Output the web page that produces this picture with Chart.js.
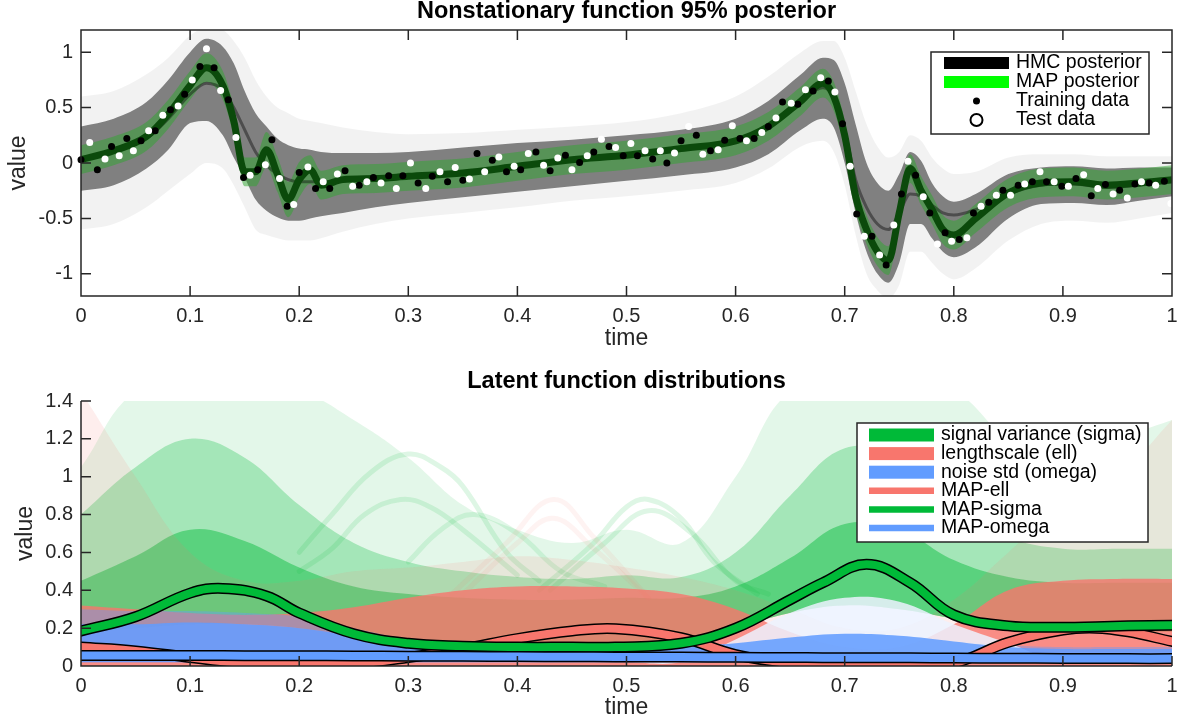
<!DOCTYPE html>
<html>
<head>
<meta charset="utf-8">
<script src="https://cdn.jsdelivr.net/npm/chart.js@4.4.1/dist/chart.umd.min.js"></script>
<style>
  html, body { margin: 0; padding: 0; background: #fff; }
  #wrap { position: relative; width: 1182px; height: 722px; overflow: hidden; }
  .panel { position: absolute; left: 0; width: 1182px; }
  #panel-top { top: 0; height: 360px; }
  #panel-bot { top: 360px; height: 362px; }
</style>
</head>
<body>
<div id="wrap">
  <div class="panel" id="panel-top"><canvas id="posterior-chart"></canvas></div>
  <div class="panel" id="panel-bot"><canvas id="latent-chart"></canvas></div>
</div>
<script>
// ---- top panel: posterior of f(t) ----
const timeGrid = [0, 0.03, 0.06, 0.08, 0.1, 0.115, 0.13, 0.14, 0.15, 0.16, 0.17, 0.18, 0.19, 0.2, 0.21,
  0.22, 0.24, 0.27, 0.3, 0.35, 0.4, 0.45, 0.5, 0.55, 0.6, 0.63, 0.66, 0.68, 0.69, 0.7, 0.71, 0.72,
  0.73, 0.74, 0.75, 0.76, 0.77, 0.78, 0.79, 0.8, 0.82, 0.85, 0.88, 0.91, 0.94, 0.97, 1.0];

const mapMean = [0.03, 0.11, 0.24, 0.44, 0.7, 0.86, 0.7, 0.38, -0.08, -0.08, 0.12, -0.1, -0.33, -0.15, -0.06,
  -0.2, -0.15, -0.14, -0.12, -0.09, -0.03, 0.03, 0.07, 0.13, 0.2, 0.33, 0.56, 0.72, 0.6, 0.25, -0.3, -0.6,
  -0.8, -0.88, -0.45, -0.05, -0.25, -0.42, -0.6, -0.65, -0.5, -0.27, -0.18, -0.17, -0.2, -0.18, -0.15];
const mapUpper = [0.16, 0.24, 0.37, 0.57, 0.83, 0.99, 0.83, 0.51, 0.05, 0.05, 0.28, 0.06, -0.17, 0.01, 0.07,
  -0.07, -0.02, -0.01, 0.01, 0.04, 0.1, 0.16, 0.2, 0.26, 0.33, 0.46, 0.69, 0.85, 0.73, 0.38, -0.17, -0.47,
  -0.67, -0.75, -0.32, 0.08, -0.12, -0.29, -0.47, -0.52, -0.37, -0.14, -0.05, -0.04, -0.07, -0.05, -0.02];
const mapLower = [-0.1, -0.02, 0.11, 0.31, 0.57, 0.73, 0.57, 0.25, -0.21, -0.21, -0.04, -0.26, -0.49, -0.31, -0.19,
  -0.33, -0.28, -0.27, -0.25, -0.22, -0.16, -0.1, -0.06, 0.0, 0.07, 0.2, 0.43, 0.59, 0.47, 0.12, -0.43, -0.73,
  -0.93, -1.01, -0.58, -0.18, -0.38, -0.55, -0.73, -0.78, -0.63, -0.4, -0.31, -0.3, -0.33, -0.31, -0.28];
const hmcMean = [0.03, 0.1, 0.22, 0.4, 0.62, 0.72, 0.66, 0.5, 0.3, 0.1, -0.02, -0.1, -0.15, -0.17, -0.17,
  -0.17, -0.16, -0.14, -0.12, -0.09, -0.03, 0.03, 0.07, 0.13, 0.2, 0.33, 0.56, 0.68, 0.6, 0.3, -0.15, -0.4,
  -0.55, -0.6, -0.45, -0.28, -0.3, -0.38, -0.45, -0.47, -0.42, -0.28, -0.2, -0.19, -0.22, -0.2, -0.17];
const hmcUpper = [0.33, 0.4, 0.55, 0.75, 1.0, 1.12, 1.05, 0.9, 0.65, 0.45, 0.33, 0.22, 0.16, 0.13, 0.12,
  0.1, 0.09, 0.09, 0.1, 0.14, 0.18, 0.21, 0.25, 0.3, 0.4, 0.56, 0.8, 0.95, 0.93, 0.72, 0.35, 0.0,
  -0.18, -0.25, -0.1, 0.1, 0.02, -0.18, -0.3, -0.35, -0.28, -0.1, -0.04, -0.03, -0.05, -0.04, -0.04];
const hmcLower = [-0.25, -0.2, -0.05, 0.12, 0.36, 0.38, 0.25, 0.05, -0.13, -0.33, -0.43, -0.49, -0.52, -0.52, -0.5,
  -0.48, -0.45, -0.4, -0.36, -0.31, -0.26, -0.21, -0.16, -0.11, -0.04, 0.08, 0.3, 0.4, 0.32, 0.0, -0.45, -0.8,
  -1.0, -1.08, -0.9, -0.55, -0.55, -0.68, -0.8, -0.85, -0.76, -0.5, -0.37, -0.36, -0.38, -0.34, -0.3];
const tailUpper = [0.6, 0.65, 0.8, 0.95, 1.15, 1.22, 1.2, 1.1, 0.95, 0.75, 0.6, 0.5, 0.45, 0.4, 0.38,
  0.36, 0.32, 0.28, 0.26, 0.27, 0.3, 0.33, 0.37, 0.45, 0.6, 0.78, 1.0, 1.1, 1.1, 0.95, 0.65, 0.35,
  0.15, 0.05, 0.1, 0.25, 0.2, 0.05, -0.05, -0.1, -0.08, 0.05, 0.08, 0.08, 0.06, 0.06, 0.06];
const tailLower = [-0.6, -0.55, -0.4, -0.25, -0.1, 0.0, -0.05, -0.2, -0.4, -0.6, -0.65, -0.68, -0.7, -0.7, -0.7,
  -0.68, -0.62, -0.55, -0.5, -0.45, -0.4, -0.34, -0.3, -0.25, -0.18, -0.05, 0.15, 0.2, 0.1, -0.2, -0.65, -1.0,
  -1.15, -1.22, -1.1, -0.8, -0.8, -0.9, -1.0, -1.05, -0.95, -0.7, -0.55, -0.52, -0.54, -0.5, -0.45];

const trainX = [0, 0.015, 0.028, 0.042, 0.055, 0.068, 0.082, 0.095, 0.109, 0.122, 0.135, 0.149, 0.162, 0.175, 0.189,
  0.2, 0.215, 0.228, 0.242, 0.255, 0.268, 0.282, 0.295, 0.309, 0.322, 0.336, 0.35, 0.363, 0.377, 0.39,
  0.403, 0.417, 0.43, 0.444, 0.457, 0.47, 0.484, 0.497, 0.51, 0.524, 0.537, 0.55, 0.564, 0.577, 0.59,
  0.604, 0.617, 0.63, 0.643, 0.657, 0.671, 0.685, 0.698, 0.711, 0.725, 0.738, 0.752, 0.765, 0.778, 0.792,
  0.805, 0.818, 0.832, 0.845, 0.859, 0.872, 0.885, 0.899, 0.912, 0.926, 0.939, 0.952, 0.966, 0.979, 0.993];
const trainY = [0.03, -0.06, 0.15, 0.22, 0.2, 0.29, 0.48, 0.62, 0.87, 0.86, 0.57, -0.13, -0.06, 0.21, -0.39,
  -0.085, -0.23, -0.23, -0.07, -0.2, -0.13, -0.115, -0.115, -0.18, -0.12, -0.17, -0.155, 0.085, 0.025, -0.08,
  -0.06, 0.1, -0.07, 0.07, 0.005, 0.1, 0.15, 0.065, 0.065, 0.035, 0.0, 0.2, 0.25, 0.11, 0.205,
  0.22, 0.22, 0.33, 0.55, 0.53, 0.65, 0.74, 0.355, -0.46, -0.66, -0.92, -0.28, -0.11, -0.45, -0.63,
  -0.69, -0.45, -0.355, -0.245, -0.2, -0.17, -0.17, -0.21, -0.14, -0.295, -0.195, -0.245, -0.19, -0.18, -0.165];
const testX = [0.008, 0.022, 0.035, 0.048, 0.062, 0.075, 0.089, 0.102, 0.115, 0.128, 0.142, 0.155, 0.169, 0.182, 0.195,
  0.208, 0.222, 0.235, 0.249, 0.262, 0.275, 0.289, 0.302, 0.316, 0.329, 0.343, 0.356, 0.37, 0.383, 0.397,
  0.41, 0.424, 0.437, 0.45, 0.464, 0.477, 0.49, 0.504, 0.517, 0.531, 0.544, 0.557, 0.57, 0.584, 0.597,
  0.61, 0.624, 0.637, 0.651, 0.664, 0.678, 0.691, 0.705, 0.718, 0.732, 0.745, 0.758, 0.772, 0.785, 0.798,
  0.812, 0.825, 0.839, 0.852, 0.865, 0.879, 0.892, 0.905, 0.919, 0.932, 0.946, 0.959, 0.972, 0.985, 0.999];
const testY = [0.185, 0.035, 0.065, 0.11, 0.29, 0.43, 0.515, 0.75, 1.03, 0.655, 0.23, -0.11, -0.015, -0.14, -0.375,
  -0.035, -0.17, -0.1, -0.21, -0.17, -0.18, -0.23, 0.0, -0.23, -0.08, -0.04, -0.145, -0.08, 0.055, -0.03,
  0.085, -0.02, 0.045, -0.06, 0.065, 0.215, 0.14, 0.175, 0.11, 0.11, 0.09, 0.33, 0.08, 0.12, 0.335,
  0.2, 0.275, 0.405, 0.54, 0.66, 0.77, 0.64, -0.03, -0.66, -0.83, -0.56, 0.015, -0.305, -0.73, -0.705,
  -0.675, -0.39, -0.29, -0.29, -0.19, -0.08, -0.17, -0.21, -0.105, -0.23, -0.28, -0.315, -0.17, -0.2, -0.365];

const timeTicks = [0, 0.1, 0.2, 0.3, 0.4, 0.5, 0.6, 0.7, 0.8, 0.9, 1];
const valueTicks = [-1, -0.5, 0, 0.5, 1];

// ---- bottom panel: latent functions ----
const latentGrid = [0, 0.05, 0.1, 0.15, 0.2, 0.25, 0.3, 0.35, 0.4, 0.45, 0.5, 0.55, 0.6, 0.65, 0.7, 0.75, 0.8, 0.85, 0.9, 0.95, 1];
const sigmaFaintTop = [1.05, 1.45, 1.45, 1.45, 1.45, 1.3, 1.1, 0.85, 0.72, 0.65, 0.72, 0.65, 1.0, 1.45, 1.45, 1.45, 1.45, 1.2, 1.1, 1.2, 1.3];
const sigmaMidTop = [0.8, 1.05, 1.2, 1.1, 0.85, 0.65, 0.55, 0.5, 0.47, 0.46, 0.48, 0.47, 0.6, 0.9, 1.15, 1.1, 0.85, 0.68, 0.62, 0.62, 0.62];
const sigmaDenseTop = [0.45, 0.58, 0.72, 0.66, 0.52, 0.42, 0.38, 0.36, 0.35, 0.35, 0.36, 0.36, 0.42, 0.57, 0.75, 0.72, 0.56, 0.47, 0.44, 0.44, 0.44];
const sigmaBottom = [0.18, 0.2, 0.22, 0.22, 0.2, 0.16, 0.12, 0.1, 0.1, 0.1, 0.1, 0.12, 0.2, 0.28, 0.32, 0.3, 0.25, 0.2, 0.18, 0.18, 0.18];
const ellFaintTop = [1.45, 1.0, 0.6, 0.45, 0.45, 0.5, 0.52, 0.55, 0.58, 0.56, 0.52, 0.47, 0.4, 0.3, 0.2, 0.2, 0.35, 0.6, 0.85, 1.0, 1.3];
const ellDenseTop = [0.32, 0.3, 0.28, 0.27, 0.28, 0.31, 0.36, 0.4, 0.42, 0.42, 0.41, 0.38, 0.3, 0.18, 0.1, 0.1, 0.22, 0.4, 0.45, 0.46, 0.46];
const ellBottom = [0, 0, 0, 0, 0, 0, 0, 0, 0, 0, 0, 0, 0, 0, 0, 0, 0, 0, 0, 0, 0];
const omegaFaintTop = [0.3, 0.29, 0.29, 0.28, 0.26, 0.2, 0.14, 0.1, 0.09, 0.09, 0.09, 0.1, 0.12, 0.15, 0.17, 0.16, 0.13, 0.11, 0.1, 0.1, 0.1];
const omegaHazeTop = [0.02, 0.02, 0.02, 0.02, 0.02, 0.02, 0.02, 0.02, 0.02, 0.02, 0.02, 0.02, 0.14, 0.28, 0.36, 0.34, 0.22, 0.12, 0.02, 0.02, 0.02];
const omegaDenseTop = [0.22, 0.22, 0.23, 0.22, 0.2, 0.16, 0.12, 0.1, 0.09, 0.09, 0.09, 0.1, 0.12, 0.15, 0.17, 0.16, 0.13, 0.1, 0.09, 0.09, 0.09];
const omegaBottom = [0.02, 0.02, 0.02, 0.02, 0.02, 0.02, 0.02, 0.02, 0.02, 0.02, 0.02, 0.02, 0.02, 0.02, 0.02, 0.02, 0.02, 0.02, 0.02, 0.02, 0.02];

// a few single draws that stand out against the white area
const sigmaDrawA = { t: [0.2, 0.23, 0.265, 0.3, 0.33, 0.35, 0.39, 0.42], v: [0.6, 0.8, 1.02, 1.12, 1.05, 0.95, 0.6, 0.45] };
const sigmaDrawB = { t: [0.2, 0.23, 0.26, 0.293, 0.32, 0.35, 0.4], v: [0.5, 0.62, 0.8, 0.88, 0.84, 0.72, 0.48] };
const sigmaDrawC = { t: [0.42, 0.47, 0.5, 0.52, 0.55, 0.58, 0.62], v: [0.4, 0.65, 0.84, 0.88, 0.78, 0.55, 0.38] };
const sigmaDrawD = { t: [0.43, 0.48, 0.52, 0.56, 0.6, 0.63], v: [0.4, 0.65, 0.82, 0.7, 0.45, 0.38] };
const sigmaDrawE = { t: [0.3, 0.33, 0.36, 0.4, 0.44, 0.48], v: [0.55, 0.72, 0.8, 0.7, 0.5, 0.42] };
const ellDrawA = { t: [0.34, 0.39, 0.433, 0.47, 0.52], v: [0.38, 0.65, 0.88, 0.68, 0.36] };
const ellDrawB = { t: [0.35, 0.4, 0.433, 0.47, 0.52], v: [0.38, 0.65, 0.78, 0.62, 0.36] };

const mapGrid = [0, 0.05, 0.1, 0.13, 0.17, 0.2, 0.25, 0.3, 0.35, 0.4, 0.45, 0.49, 0.55, 0.6, 0.65, 0.68, 0.72, 0.76, 0.8, 0.85, 0.9, 0.93, 0.96, 1.0];
const mapSigma = [0.185, 0.26, 0.385, 0.41, 0.37, 0.28, 0.17, 0.12, 0.105, 0.1, 0.1, 0.1, 0.12, 0.2, 0.35, 0.44, 0.537, 0.44, 0.27, 0.212, 0.205, 0.208, 0.212, 0.215];
const mapEll = [0.1, 0.08, 0.045, 0.025, 0.012, 0.008, 0.012, 0.045, 0.09, 0.145, 0.185, 0.197, 0.15, 0.06, 0.015, 0.01, 0.005, 0.005, 0.015, 0.125, 0.19, 0.2, 0.18, 0.13];
const mapOmega = [0.056, 0.055, 0.055, 0.055, 0.054, 0.054, 0.053, 0.052, 0.051, 0.05, 0.049, 0.048, 0.047, 0.046, 0.045, 0.044, 0.043, 0.043, 0.042, 0.041, 0.04, 0.04, 0.039, 0.039];

const latentTicks = [0, 0.2, 0.4, 0.6, 0.8, 1, 1.2, 1.4];

const GREEN = '0, 186, 56';
const RED = '248, 118, 109';
const BLUE = '97, 156, 255';
const FONT = "'Liberation Sans', Arial, Helvetica, sans-serif";

Chart.defaults.font.family = FONT;
Chart.defaults.color = '#262626';

function pts(xs, ys) {
  return xs.map((x, i) => ({ x: x, y: ys[i] }));
}

function band(xs, upper, lower, color, smooth) {
  const common = { borderWidth: 0, pointRadius: 0, cubicInterpolationMode: smooth ? 'default' : 'monotone', tension: smooth ? 0.4 : 0 };
  return [
    Object.assign({ data: pts(xs, upper), fill: '+1', backgroundColor: color }, common),
    Object.assign({ data: pts(xs, lower), fill: false }, common)
  ];
}

function line(xs, ys, color, width, smooth, cap) {
  return {
    data: pts(xs, ys), borderColor: color, borderWidth: width, pointRadius: 0, fill: false,
    cubicInterpolationMode: smooth ? 'default' : 'monotone', tension: smooth ? 0.4 : 0,
    borderCapStyle: cap || 'butt', borderJoinStyle: 'round'
  };
}

// datasets are listed bottom layer first; Chart.js paints lower "order" last
function stack(list) {
  list.forEach((d, i) => { d.order = list.length - i; });
  return list;
}

// axes frame with inward ticks, MATLAB style
const axesFrame = {
  id: 'axesFrame',
  afterDatasetsDraw(chart, args, opts) {
    const { ctx, chartArea: a, scales: { x, y } } = chart;
    const len = 10;
    ctx.save();
    ctx.strokeStyle = '#262626';
    ctx.lineWidth = 1.5;
    ctx.beginPath();
    if (opts.box) {
      ctx.rect(a.left, a.top, a.right - a.left, a.bottom - a.top);
    } else {
      ctx.moveTo(a.left, a.top);
      ctx.lineTo(a.left, a.bottom);
      ctx.lineTo(a.right, a.bottom);
    }
    x.ticks.forEach(t => {
      const px = x.getPixelForValue(t.value);
      ctx.moveTo(px, a.bottom);
      ctx.lineTo(px, a.bottom - len);
      if (opts.box) { ctx.moveTo(px, a.top); ctx.lineTo(px, a.top + len); }
    });
    y.ticks.forEach(t => {
      const py = y.getPixelForValue(t.value);
      ctx.moveTo(a.left, py);
      ctx.lineTo(a.left + len, py);
      if (opts.box) { ctx.moveTo(a.right, py); ctx.lineTo(a.right - len, py); }
    });
    ctx.stroke();
    ctx.restore();
  }
};

const plotTitle = {
  id: 'plotTitle',
  afterDraw(chart, args, opts) {
    const { ctx, chartArea: a } = chart;
    ctx.save();
    ctx.font = 'bold 23.5px ' + FONT;
    ctx.fillStyle = '#000';
    ctx.textAlign = 'center';
    ctx.textBaseline = 'middle';
    ctx.fillText(opts.text, (a.left + a.right) / 2, opts.y);
    ctx.restore();
  }
};

const boxLegend = {
  id: 'boxLegend',
  afterDraw(chart, args, o) {
    const { ctx, chartArea: a } = chart;
    const left = a.right - o.right - o.width;
    const top = a.top + o.top;
    ctx.save();
    ctx.fillStyle = '#fff';
    ctx.fillRect(left, top, o.width, o.height);
    ctx.strokeStyle = '#262626';
    ctx.lineWidth = 1.5;
    ctx.strokeRect(left, top, o.width, o.height);
    ctx.font = '19.5px ' + FONT;
    ctx.textBaseline = 'middle';
    o.items.forEach((it, i) => {
      const cy = top + o.firstRow + i * o.rowGap;
      const x0 = left + o.swatchFrom, x1 = left + o.swatchTo;
      if (it.kind === 'patch') {
        ctx.fillStyle = it.color;
        ctx.fillRect(x0, cy - 6.5, x1 - x0, 13);
      } else if (it.kind === 'line') {
        ctx.strokeStyle = it.color;
        ctx.lineWidth = it.width;
        ctx.beginPath();
        ctx.moveTo(x0, cy);
        ctx.lineTo(x1, cy);
        ctx.stroke();
      } else if (it.kind === 'dot') {
        ctx.fillStyle = '#000';
        ctx.beginPath();
        ctx.arc((x0 + x1) / 2, cy, 3.5, 0, Math.PI * 2);
        ctx.fill();
      } else if (it.kind === 'ring') {
        ctx.strokeStyle = '#000';
        ctx.lineWidth = 2;
        ctx.beginPath();
        ctx.arc((x0 + x1) / 2, cy, 6, 0, Math.PI * 2);
        ctx.stroke();
      }
      ctx.fillStyle = '#000';
      ctx.fillText(it.label, left + o.textX, cy);
    });
    ctx.restore();
  }
};

// x labels are pushed down with lineHeight so the tick padding (which also widens the
// right-hand overhang that Chart.js reserves) stays small
function axisOptions(ticks, min, max, fit, title, titlePad, horizontal) {
  return {
    type: 'linear', min: min, max: max,
    grid: { display: false, drawTicks: false },
    border: { display: false },
    afterBuildTicks: s => { s.ticks = ticks.map(v => ({ value: v })); },
    ticks: {
      font: { size: 20, lineHeight: horizontal ? 1.7 : 1.2 },
      color: '#262626', padding: horizontal ? 3 : 8, callback: v => String(v)
    },
    title: { display: true, text: title, font: { size: 23 }, color: '#262626', padding: titlePad },
    afterFit: fit
  };
}

// Top chart
const topDatasets = stack([
  ...band(timeGrid, tailUpper, tailLower, 'rgba(0, 0, 0, 0.05)'),
  ...band(timeGrid, hmcUpper, hmcLower, 'rgb(128, 128, 128)'),
  ...band(timeGrid, mapUpper, mapLower, 'rgba(45, 165, 45, 0.5)'),
  line(timeGrid, hmcMean, 'rgba(0, 0, 0, 0.4)', 3),
  line(timeGrid, mapMean, '#0b4a0b', 7),
  { type: 'scatter', data: pts(trainX, trainY), pointRadius: 3.5, pointBackgroundColor: '#000', pointBorderWidth: 0, showLine: false, clip: false },
  { type: 'scatter', data: pts(testX, testY), pointRadius: 3.5, pointBackgroundColor: '#fff', pointBorderWidth: 0, showLine: false, clip: false }
]);

new Chart(document.getElementById('posterior-chart'), {
  type: 'line',
  data: { datasets: topDatasets },
  options: {
    responsive: true, maintainAspectRatio: false, animation: false, devicePixelRatio: 1,
    layout: { padding: { top: 30, right: 10, left: 0, bottom: 0 } },
    scales: {
      x: axisOptions(timeTicks, 0, 1, s => { s.height = 64; }, 'time', { top: 0, bottom: 8 }, true),
      y: axisOptions(valueTicks, -1.2, 1.2, s => { s.width = 81; }, 'value', { top: 5, bottom: 0 }, false)
    },
    plugins: {
      legend: { display: false },
      tooltip: { enabled: false },
      axesFrame: { box: true },
      plotTitle: { text: 'Nonstationary function 95% posterior', y: 12 },
      boxLegend: {
        right: 23, top: 22, width: 218, height: 82, firstRow: 11, rowGap: 19,
        swatchFrom: 13, swatchTo: 78, textX: 85,
        items: [
          { label: 'HMC posterior', kind: 'line', color: '#000', width: 12 },
          { label: 'MAP posterior', kind: 'line', color: '#00ff00', width: 12 },
          { label: 'Training data', kind: 'dot' },
          { label: 'Test data', kind: 'ring' }
        ]
      }
    }
  },
  plugins: [axesFrame, plotTitle, boxLegend]
});

// Bottom chart
const drawStyle = (d, rgb, alpha) => line(d.t, d.v, `rgba(${rgb}, ${alpha})`, 5, true, 'round');

const latentDatasets = stack([
  ...band(latentGrid, sigmaFaintTop, sigmaBottom, `rgba(${GREEN}, 0.11)`, true),
  ...band(latentGrid, sigmaMidTop, sigmaBottom, `rgba(${GREEN}, 0.28)`, true),
  ...band(latentGrid, sigmaDenseTop, sigmaBottom, `rgba(${GREEN}, 0.45)`, true),
  drawStyle(sigmaDrawA, GREEN, 0.13),
  drawStyle(sigmaDrawB, GREEN, 0.13),
  drawStyle(sigmaDrawC, GREEN, 0.13),
  drawStyle(sigmaDrawD, GREEN, 0.13),
  drawStyle(sigmaDrawE, GREEN, 0.12),
  drawStyle(ellDrawA, RED, 0.09),
  drawStyle(ellDrawB, RED, 0.09),
  ...band(latentGrid, ellFaintTop, ellBottom, `rgba(${RED}, 0.12)`, true),
  ...band(latentGrid, ellDenseTop, ellBottom, `rgba(${RED}, 0.8)`, true),
  ...band(latentGrid, omegaFaintTop, omegaBottom, `rgba(${BLUE}, 0.4)`, true),
  ...band(latentGrid, omegaHazeTop, omegaBottom, 'rgba(236, 242, 255, 0.85)', true),
  ...band(latentGrid, omegaDenseTop, omegaBottom, `rgba(${BLUE}, 0.85)`, true),
  line(mapGrid, mapEll, '#000', 11, true, 'square'),
  line(mapGrid, mapEll, `rgb(${RED})`, 8, true, 'square'),
  line(mapGrid, mapSigma, '#000', 11, true, 'square'),
  line(mapGrid, mapSigma, `rgb(${GREEN})`, 8, true, 'square'),
  line(mapGrid, mapOmega, '#000', 11, true, 'square'),
  line(mapGrid, mapOmega, `rgb(${BLUE})`, 8, true, 'square')
]);

new Chart(document.getElementById('latent-chart'), {
  type: 'line',
  data: { datasets: latentDatasets },
  options: {
    responsive: true, maintainAspectRatio: false, animation: false, devicePixelRatio: 1,
    layout: { padding: { top: 41, right: 10, left: 0, bottom: 0 } },
    scales: {
      x: axisOptions(timeTicks, 0, 1, s => { s.height = 56; }, 'time', { top: 0, bottom: 1 }, true),
      y: axisOptions(latentTicks, 0, 1.4, s => { s.width = 81; }, 'value', { top: 12, bottom: 0 }, false)
    },
    plugins: {
      legend: { display: false },
      tooltip: { enabled: false },
      axesFrame: { box: false },
      plotTitle: { text: 'Latent function distributions', y: 22 },
      boxLegend: {
        right: 24, top: 22, width: 291, height: 119, firstRow: 12, rowGap: 18.6,
        swatchFrom: 12, swatchTo: 77, textX: 84,
        items: [
          { label: 'signal variance (sigma)', kind: 'patch', color: `rgb(${GREEN})` },
          { label: 'lengthscale (ell)', kind: 'patch', color: `rgb(${RED})` },
          { label: 'noise std (omega)', kind: 'patch', color: `rgb(${BLUE})` },
          { label: 'MAP-ell', kind: 'line', color: `rgb(${RED})`, width: 6.5 },
          { label: 'MAP-sigma', kind: 'line', color: `rgb(${GREEN})`, width: 6.5 },
          { label: 'MAP-omega', kind: 'line', color: `rgb(${BLUE})`, width: 6.5 }
        ]
      }
    }
  },
  plugins: [axesFrame, plotTitle, boxLegend]
});
</script>
</body>
</html>
